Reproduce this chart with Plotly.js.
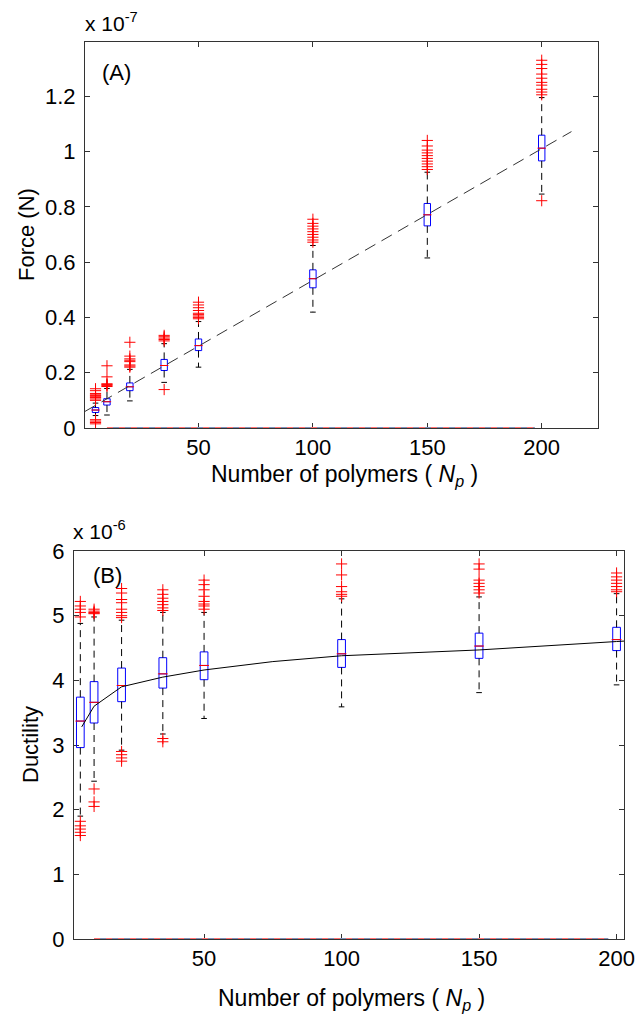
<!DOCTYPE html>
<html>
<head>
<meta charset="utf-8">
<script src="https://cdn.plot.ly/plotly-3.0.1.min.js"></script>
<style>html,body{margin:0;padding:0;background:#fff;}#chart{width:641px;height:1018px;}</style>
</head>
<body>
<div id="chart"></div>
<script>
// ---------- data ----------
var positions = [5, 10, 20, 35, 50, 100, 150, 200];
var xTickVals = [50, 100, 150, 200];

// Panel A: Force, in units of 1e-7 N
var forceQ1  = [0.056, 0.083, 0.135, 0.208, 0.280, 0.507, 0.731, 0.966];
var forceMed = [0.065, 0.095, 0.149, 0.226, 0.298, 0.540, 0.771, 1.012];
var forceQ3  = [0.074, 0.106, 0.163, 0.248, 0.322, 0.572, 0.812, 1.059];
var forceLo  = [0.045, 0.047, 0.098, 0.165, 0.220, 0.419, 0.615, 0.846];
var forceHi  = [0.090, 0.143, 0.212, 0.305, 0.385, 0.660, 0.925, 1.195];
var forceOutliers = [
  [0.142, 0.135, 0.125, 0.120, 0.117, 0.113, 0.110, 0.105, 0.100, 0.030, 0.025, 0.020, 0.015],
  [0.225, 0.185, 0.160, 0.157, 0.154, 0.150],
  [0.310, 0.260, 0.250, 0.245, 0.240, 0.228, 0.224, 0.220],
  [0.335, 0.330, 0.325, 0.320, 0.315, 0.139],
  [0.455, 0.445, 0.435, 0.425, 0.415, 0.410, 0.405, 0.400, 0.395],
  [0.755, 0.740, 0.730, 0.720, 0.710, 0.700, 0.690, 0.680, 0.672],
  [1.040, 1.020, 1.005, 0.995, 0.985, 0.975, 0.965, 0.955, 0.945, 0.935],
  [1.330, 1.315, 1.300, 1.280, 1.265, 1.250, 1.240, 1.225, 1.215, 1.205, 0.822]
];
var forceFitX = [0.4, 213];
var forceFitY = [0.060, 1.072];

// Panel B: Ductility, in units of 1e-6
var ductQ1  = [2.96, 3.34, 3.67, 3.88, 4.01, 4.20, 4.34, 4.46];
var ductMed = [3.37, 3.66, 3.92, 4.10, 4.23, 4.41, 4.53, 4.63];
var ductQ3  = [3.74, 3.98, 4.19, 4.35, 4.44, 4.63, 4.73, 4.82];
var ductLo  = [1.90, 2.44, 2.92, 3.17, 3.41, 3.59, 3.81, 3.93];
var ductHi  = [4.88, 4.98, 4.93, 5.05, 5.05, 5.26, 5.29, 5.34];
var ductOutliers = [
  [5.22, 5.15, 5.10, 5.05, 4.98, 1.82, 1.75, 1.70, 1.65, 1.60],
  [5.10, 5.07, 5.05, 5.04, 5.03, 2.32, 2.12, 2.05],
  [5.42, 5.35, 5.25, 5.20, 5.10, 5.05, 5.00, 4.97, 2.90, 2.85, 2.80, 2.75],
  [5.40, 5.33, 5.27, 5.22, 5.17, 5.12, 5.08, 3.10, 3.05],
  [5.55, 5.48, 5.40, 5.30, 5.22, 5.18, 5.15, 5.10],
  [5.80, 5.63, 5.45, 5.37, 5.33, 5.30],
  [5.80, 5.72, 5.55, 5.50, 5.45, 5.40, 5.35],
  [5.66, 5.60, 5.55, 5.50, 5.45, 5.40, 5.37]
];
var ductFitX = [5.5, 10, 20, 35, 50, 75, 100, 150, 200, 204];
var ductFitY = [3.28, 3.60, 3.90, 4.05, 4.16, 4.29, 4.38, 4.47, 4.60, 4.61];

var baseX = [10, 197];
var baseY = [0, 0];

// ---------- builders ----------
var FONT = 'Liberation Sans, Arial, sans-serif';
var BOXW = 2.8;

function whiskers(lo, q1, q3, hi) {
  var x = [], y = [];
  for (var i = 0; i < positions.length; i++) {
    x.push(positions[i], positions[i], null, positions[i], positions[i], null);
    y.push(q3[i], hi[i], null, q1[i], lo[i], null);
  }
  return {x: x, y: y};
}
function outlierPts(out) {
  var x = [], y = [];
  for (var i = 0; i < out.length; i++) for (var j = 0; j < out[i].length; j++) { x.push(positions[i]); y.push(out[i][j]); }
  return {x: x, y: y};
}

function panelTraces(q1, med, q3, lo, hi, out, fitX, fitY, fitDash, xa, ya, medSize) {
  var w = whiskers(lo, q1, q3, hi);
  var o = outlierPts(out);
  var capsX = positions.concat(positions);
  var capsY = lo.concat(hi);
  return [
    {type: 'scatter', mode: 'lines', x: baseX, y: baseY, xaxis: xa, yaxis: ya,
     line: {color: '#8090b8', width: 2}, hoverinfo: 'skip', showlegend: false},
    {type: 'scatter', mode: 'lines', x: baseX, y: baseY, xaxis: xa, yaxis: ya,
     line: {color: '#ff7070', width: 2, dash: '6px,6px'}, hoverinfo: 'skip', showlegend: false},
    {type: 'scatter', mode: 'lines', x: w.x, y: w.y, xaxis: xa, yaxis: ya,
     line: {color: '#000', width: 1, dash: '7px,5px'}, hoverinfo: 'skip', showlegend: false},
    {type: 'scatter', mode: 'markers', x: capsX, y: capsY, xaxis: xa, yaxis: ya,
     marker: {symbol: 'line-ew', size: 4, color: '#000', line: {color: '#000', width: 1}}, hoverinfo: 'skip', showlegend: false},
    {type: 'box', x: positions, q1: q1, median: med, q3: q3, lowerfence: q1, upperfence: q3,
     xaxis: xa, yaxis: ya, width: BOXW, whiskerwidth: 0, boxpoints: false,
     line: {color: '#0000ff', width: 1}, fillcolor: 'rgba(255,255,255,0)', hoverinfo: 'skip', showlegend: false},
    {type: 'scatter', mode: 'markers', x: positions, y: med, xaxis: xa, yaxis: ya,
     marker: {symbol: 'line-ew', size: medSize, color: '#ff0000', line: {color: '#ff0000', width: 1}}, hoverinfo: 'skip', showlegend: false},
    {type: 'scatter', mode: 'markers', x: o.x, y: o.y, xaxis: xa, yaxis: ya,
     marker: {symbol: 'cross-thin-open', size: 8, color: '#ff0000', line: {color: '#ff0000', width: 1}}, hoverinfo: 'skip', showlegend: false},
    {type: 'scatter', mode: 'lines', x: fitX, y: fitY, xaxis: xa, yaxis: ya,
     line: {color: fitDash ? '#333' : '#000', width: 1, dash: fitDash ? '12px,7px' : 'solid'}, hoverinfo: 'skip', showlegend: false}
  ];
}

var traces = []
  .concat(panelTraces(forceQ1, forceMed, forceQ3, forceLo, forceHi, forceOutliers, forceFitX, forceFitY, true, 'x', 'y', 6))
  .concat(panelTraces(ductQ1, ductMed, ductQ3, ductLo, ductHi, ductOutliers, ductFitX, ductFitY, false, 'x2', 'y2', 7));

var W = 641, H = 1018;
function px(x) { return x / W; }
function py(y) { return 1 - y / H; }

var axisCommon = {
  showline: true, linecolor: '#333', linewidth: 1, mirror: 'ticks',
  ticks: 'inside', ticklen: 5, tickcolor: '#333', tickwidth: 1,
  showgrid: false, zeroline: false, layer: 'below traces',
  tickfont: {family: FONT, size: 22, color: '#000'}, fixedrange: true
};
function ax(extra) { var o = {}; for (var k in axisCommon) o[k] = axisCommon[k]; for (var k2 in extra) o[k2] = extra[k2]; return o; }

var titleFont = {family: FONT, size: 22, color: '#000'};
var xTitleFont = {family: FONT, size: 23, color: '#000'};
var layout = {
  width: W, height: H,
  margin: {l: 0, r: 0, t: 0, b: 0},
  paper_bgcolor: '#fff', plot_bgcolor: '#fff',
  showlegend: false,
  xaxis: ax({domain: [px(85), px(598)], range: [0.4, 224.6], tickmode: 'array', tickvals: xTickVals, anchor: 'y', ticklabelstandoff: 0}),
  yaxis: ax({domain: [py(428), py(42)], range: [0, 1.396], tickmode: 'linear', tick0: 0, dtick: 0.2, anchor: 'x', ticklabelstandoff: 4}),
  xaxis2: ax({domain: [px(74), px(624)], range: [2.7, 202.7], tickmode: 'array', tickvals: xTickVals, anchor: 'y2', ticklabelstandoff: 0}),
  yaxis2: ax({domain: [py(939), py(551)], range: [0, 6], tickmode: 'linear', tick0: 0, dtick: 1, anchor: 'x2', ticklabelstandoff: 4}),
  annotations: [
    {xref: 'paper', yref: 'paper', x: px(27), y: py(235), text: 'Force (N)', textangle: -90, showarrow: false,
     xanchor: 'center', yanchor: 'middle', font: titleFont},
    {xref: 'paper', yref: 'paper', x: px(344), y: py(459), text: 'Number of polymers ( <i>N<sub>p</sub></i> )', showarrow: false,
     xanchor: 'center', yanchor: 'top', font: xTitleFont},
    {xref: 'paper', yref: 'paper', x: px(30), y: py(745), text: 'Ductility', textangle: -90, showarrow: false,
     xanchor: 'center', yanchor: 'middle', font: titleFont},
    {xref: 'paper', yref: 'paper', x: px(351), y: py(983), text: 'Number of polymers ( <i>N<sub>p</sub></i> )', showarrow: false,
     xanchor: 'center', yanchor: 'top', font: xTitleFont},
    {xref: 'paper', yref: 'paper', x: px(83), y: py(37), text: 'x 10<sup>-7</sup>', showarrow: false,
     xanchor: 'left', yanchor: 'bottom', font: {family: FONT, size: 21, color: '#000'}},
    {xref: 'paper', yref: 'paper', x: px(71), y: py(545), text: 'x 10<sup>-6</sup>', showarrow: false,
     xanchor: 'left', yanchor: 'bottom', font: {family: FONT, size: 21, color: '#000'}},
    {xref: 'paper', yref: 'paper', x: px(116), y: py(72), text: '(A)', showarrow: false,
     xanchor: 'center', yanchor: 'middle', font: titleFont},
    {xref: 'paper', yref: 'paper', x: px(107), y: py(575), text: '(B)', showarrow: false,
     xanchor: 'center', yanchor: 'middle', font: titleFont}
  ]
};

Plotly.newPlot('chart', traces, layout, {staticPlot: true, displayModeBar: false});
</script>
</body>
</html>
